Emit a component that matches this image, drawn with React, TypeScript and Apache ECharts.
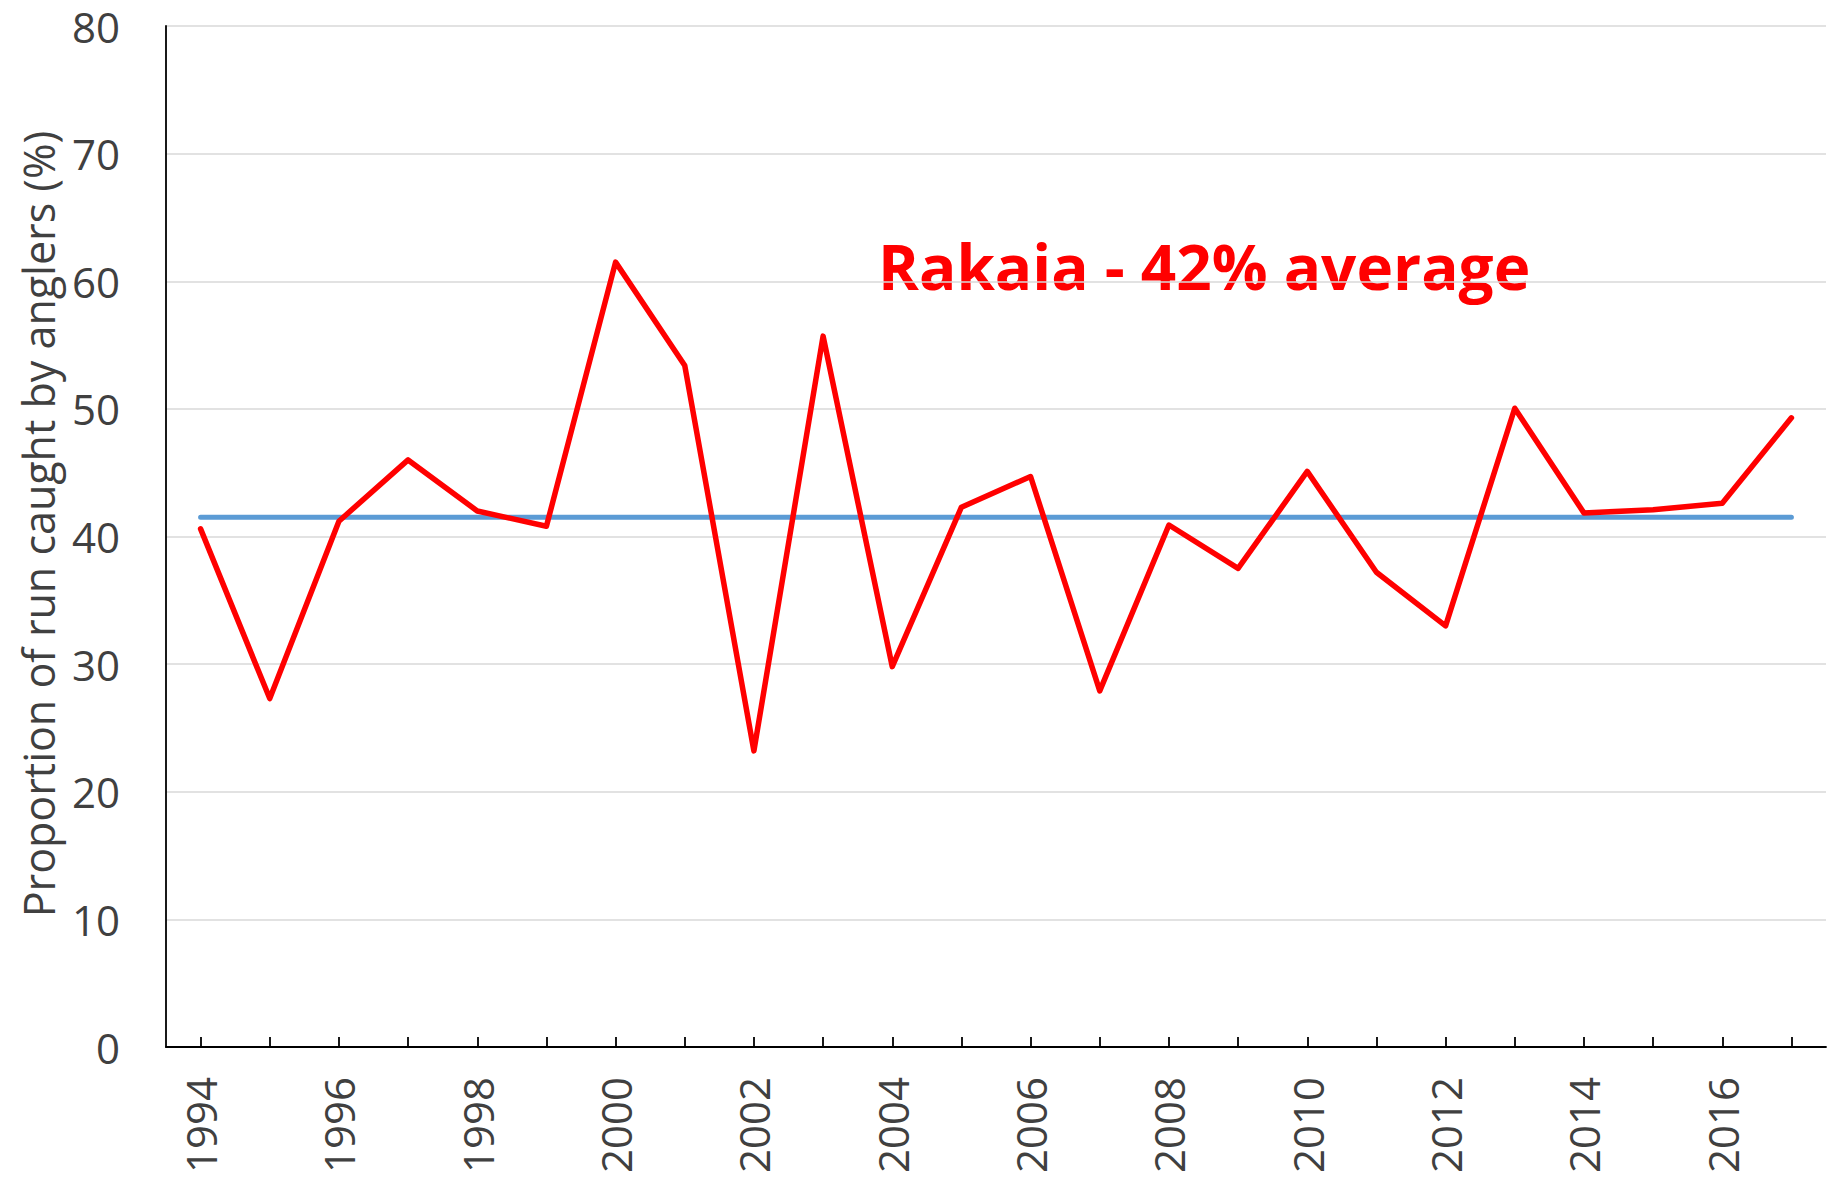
import React, { useEffect, useRef } from "react";
import * as echarts from "echarts";

const years: string[] = [
  "1994", "1995", "1996", "1997", "1998", "1999", "2000", "2001", "2002", "2003", "2004", "2005",
  "2006", "2007", "2008", "2009", "2010", "2011", "2012", "2013", "2014", "2015", "2016", "2017",
];
const proportion: number[] = [
  40.6, 27.3, 41.2, 46.0, 42.0, 40.8, 61.5, 53.4, 23.2, 55.7, 29.8, 42.3,
  44.7, 27.9, 40.9, 37.5, 45.1, 37.2, 33.0, 50.05, 41.85, 42.1, 42.6, 49.3,
];
const averageValue = 41.5;
const averageLine: number[] = years.map(() => averageValue);
const yTicks = { min: 0, max: 80, interval: 10 };
const titleText = "Rakaia - 42% average";
const yAxisName = "Proportion of run caught by anglers (%)";

export default function App() {
  const ref = useRef<HTMLDivElement>(null);
  useEffect(() => {
    if (!ref.current) return;
    const chart = echarts.init(ref.current, null, { renderer: "svg" });
    const font = "'Open Sans', sans-serif";
    chart.setOption({
      animation: false,
      backgroundColor: "#ffffff",
      grid: { left: 166, right: 6, top: 26, bottom: 131, containLabel: false },
      xAxis: {
        type: "category",
        data: years,
        boundaryGap: true,
        axisLine: { show: true, lineStyle: { color: "#000000", width: 1.8 } },
        axisTick: { show: true, inside: true, length: 10, alignWithLabel: true, interval: 0, lineStyle: { color: "#000000", width: 1.8 } },
        axisLabel: { interval: 1, rotate: 90, margin: 30, fontSize: 42, fontFamily: font, color: "#404040" },
        splitLine: { show: false },
      },
      yAxis: {
        type: "value",
        min: yTicks.min,
        max: yTicks.max,
        interval: yTicks.interval,
        axisLine: { show: true, lineStyle: { color: "#000000", width: 1.8 } },
        axisTick: { show: false },
        axisLabel: { margin: 46, fontSize: 42, fontFamily: font, color: "#404040" },
        splitLine: { show: true, lineStyle: { color: "#d9d9d9", width: 1.5 } },
      },
      graphic: [
        {
          type: "text",
          x: 878,
          y: 266,
          style: {
            text: titleText,
            fill: "#ff0000",
            font: `bold 62px ${font}`,
            textAlign: "left",
            textVerticalAlign: "middle",
          },
        },
        {
          type: "text",
          x: 38,
          y: 524,
          rotation: Math.PI / 2,
          style: {
            text: yAxisName,
            fill: "#404040",
            font: `43px ${font}`,
            textAlign: "center",
            textVerticalAlign: "middle",
          },
        },
      ],
      series: [
        {
          type: "line",
          data: averageLine,
          symbol: "none",
          lineStyle: { color: "#5b9bd5", width: 5, cap: "round" },
          z: 2,
        },
        {
          type: "line",
          data: proportion,
          symbol: "none",
          lineStyle: { color: "#ff0000", width: 5.5, cap: "round", join: "round" },
          z: 3,
        },
      ],
    });
    return () => chart.dispose();
  }, []);
  return <div ref={ref} style={{ position: "fixed", left: 0, top: 0, width: 1832, height: 1178 }} />;
}
